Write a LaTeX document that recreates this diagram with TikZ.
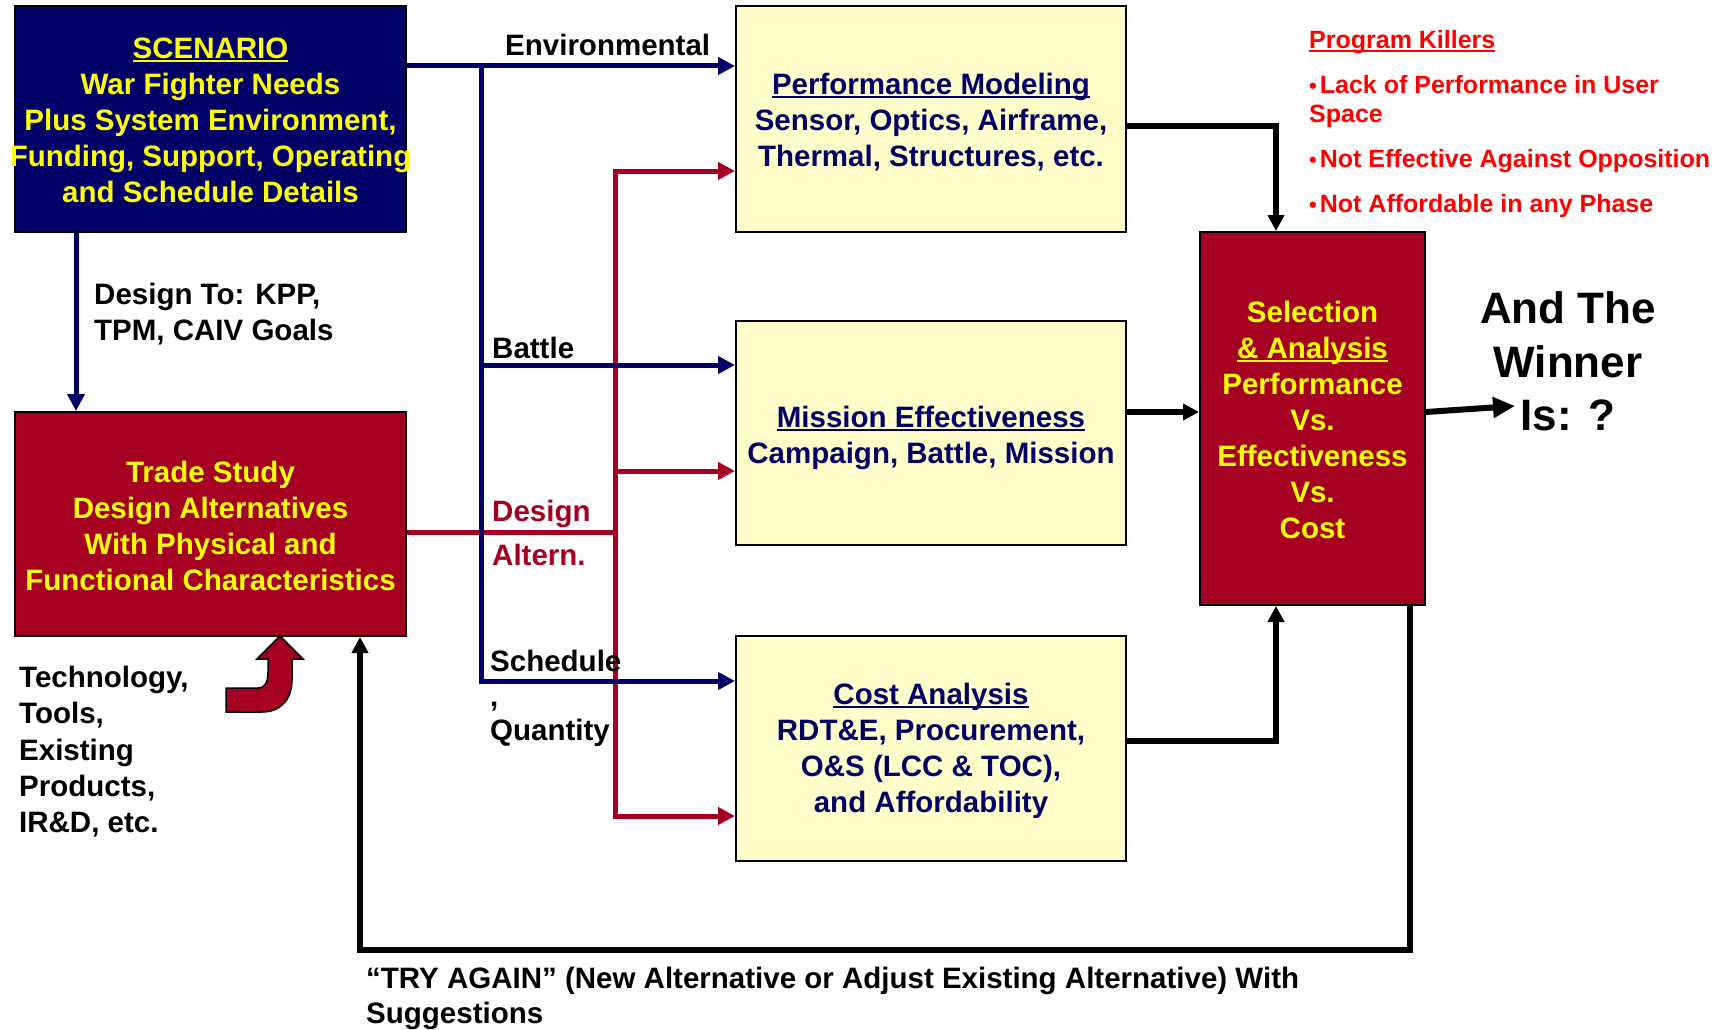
\documentclass[tikz,border=0pt]{standalone}
\usepackage{fontspec}
\setmainfont{Liberation Sans}
\usetikzlibrary{arrows.meta}
\definecolor{navy}{HTML}{000066}
\definecolor{dred}{HTML}{A50021}
\definecolor{ylw}{HTML}{FFFF00}
\definecolor{pale}{HTML}{FFFFCC}
\definecolor{kred}{HTML}{FF0000}
\newsavebox\ulbox
\newcommand\myul[1]{\sbox\ulbox{#1}\rlap{\rule[-3.5pt]{\wd\ulbox}{2pt}}\usebox\ulbox}
\newcommand\pkbul{{\fontsize{22}{22}\selectfont\textbullet}\hspace{3pt}}
\tikzset{
  frame/.style={draw=black, line width=2pt, inner sep=0pt},
  navybox/.style={frame, fill=navy},
  redbox/.style={frame, fill=dred},
  palebox/.style={frame, fill=pale},
  ytext/.style={text=ylw, align=center, inner sep=0pt},
  ntext/.style={text=navy, align=center, inner sep=0pt},
  lbl/.style={anchor=base west, inner sep=0pt},
  blu/.style={draw=navy, line width=5pt, line join=miter},
  bluarr/.style={blu, -{Triangle[length=17pt,width=17pt]}},
  redl/.style={draw=dred, line width=5pt, line join=miter},
  redarr/.style={redl, -{Triangle[length=17pt,width=17pt]}},
  blk/.style={draw=black, line width=6pt, line join=miter},
  blkarr/.style={blk, -{Triangle[length=16pt,width=16pt]}},
}
\begin{document}
\begin{tikzpicture}[x=1pt,y=-1pt,font=\fontsize{29.5}{36}\selectfont\bfseries]
\useasboundingbox (0,0) rectangle (1731,1030);

% boxes
\node[navybox, minimum width=391pt, minimum height=226pt] (scen) at (210.5,119) {};
\node[ytext, yshift=-1pt] (scent) at (scen.center) {\myul{SCENARIO}\\War Fighter Needs\\Plus System Environment,\\Funding, Support, Operating\\and Schedule Details};
\node[redbox, minimum width=391pt, minimum height=224pt] (trade) at (210.5,524) {};
\node[ytext, yshift=-2pt] (tradet) at (trade.center) {Trade Study\\Design Alternatives\\With Physical and\\Functional Characteristics};
\node[palebox, minimum width=390pt, minimum height=226pt] (perf) at (931,119) {};
\node[ntext, yshift=-3pt] (perft) at (perf.center) {\myul{Performance Modeling}\\Sensor, Optics, Airframe,\\Thermal, Structures, etc.};
\node[palebox, minimum width=390pt, minimum height=224pt] (miss) at (931,433) {};
\node[ntext, yshift=-5pt] (misst) at (miss.center) {\myul{Mission Effectiveness}\\Campaign, Battle, Mission};
\node[palebox, minimum width=390pt, minimum height=225pt] (cost) at (931,748.5) {};
\node[ntext, yshift=-2pt] (costt) at (cost.center) {\myul{Cost Analysis}\\RDT\&E, Procurement,\\O\&S (LCC \& TOC),\\and Affordability};
\node[redbox, minimum width=225pt, minimum height=373pt] (sel) at (1312.5,418.5) {};
\node[ytext, yshift=-1pt] (selt) at (sel.center) {Selection\\\myul{\& Analysis}\\Performance\\Vs.\\Effectiveness\\Vs.\\Cost};

% coordinates
\coordinate (bj) at (481,66);
\coordinate (bb) at (481,365);
\coordinate (bs) at (481,681);
\coordinate (rj) at (615,532);
\coordinate (rt) at (615,171);
\coordinate (rm) at (615,471);
\coordinate (rb) at (615,816);
\coordinate (loopL) at (360,950);
\coordinate (wtip) at (1515,406);

% red connectors
\draw[redl] (trade.east |- rj) -- (rj);
\draw[redl, {Triangle[length=17pt,width=17pt]}-{Triangle[length=17pt,width=17pt]}] (perf.west |- rt) -| (rb) -- (cost.west |- rb);
\draw[redarr] (rm) -- (miss.west |- rm);

% blue connectors
\draw[bluarr] (scen.east |- bj) -- (perf.west |- bj);
\draw[bluarr] (bj) -- (bs) -- (cost.west |- bs);
\draw[bluarr] (bb) -- (miss.west |- bb);
\draw[bluarr] ([xshift=-134.5pt]scen.south) -- ([xshift=-134.5pt]trade.north);

% black connectors
\draw[blkarr] (perf.east |- 0,126) -| ([xshift=-36.5pt]sel.north);
\draw[blkarr] (miss.east |- 0,412) -- (sel.west |- 0,412);
\draw[blkarr] (cost.east |- 0,741) -| ([xshift=-36.5pt]sel.south);
\draw[blkarr] ([xshift=97.5pt]sel.south) |- (loopL) -- (loopL |- trade.south);
\draw[blk, -{Triangle[length=22pt,width=20pt]}] (sel.east |- 0,412) -- (wtip);

% curved input arrow
\draw[fill=dred, draw=black, line width=1.5pt, line join=miter]
  (226,688) -- (258,688) .. controls (265,688) and (268,682) .. (268,672)
  -- (268,659) -- (257,659) -- (280,636) -- (303,659) -- (292,659) -- (292,680)
  .. controls (292,700) and (280,712) .. (262,712) -- (226,712) -- cycle;

% labels
\node[lbl] (lenv) at (505,56) {Environmental};
\node[lbl] (ldt1) at (94,304) {Design To: KPP,};
\node[lbl] (ldt2) at (94,340) {TPM, CAIV Goals};
\node[lbl] (lbat) at (492,358) {Battle};
\node[lbl, text=dred] (ldes) at (492,521) {Design};
\node[lbl, text=dred] (lalt) at (492,565) {Altern.};
\node[lbl] (lsch) at (490,671) {Schedule};
\node[lbl] (lcom) at (490,706) {,};
\node[lbl] (lqty) at (490,740) {Quantity};
\node[lbl] (lt1) at (19,687) {Technology,};
\node[lbl] (lt2) at (19,723) {Tools,};
\node[lbl] (lt3) at (19,760) {Existing};
\node[lbl] (lt4) at (19,796) {Products,};
\node[lbl] (lt5) at (19,832) {IR\&D, etc.};
\node[lbl] (ltry1) at (366,988) {“TRY AGAIN” (New Alternative or Adjust Existing Alternative) With};
\node[lbl] (ltry2) at (366,1023) {Suggestions};

% winner
\begin{scope}[font=\fontsize{44}{54}\selectfont\bfseries]
\node[anchor=base, inner sep=0pt] (w1) at (1568,323) {And The};
\node[anchor=base, inner sep=0pt] (w2) at (1568,377) {Winner};
\node[anchor=base, inner sep=0pt] (w3) at (1568,430) {Is: ?};
\end{scope}

% program killers
\begin{scope}[font=\fontsize{25}{30}\selectfont\bfseries, every node/.style={lbl, text=kred}]
\node (pk0) at (1309,49) {\myul{Program Killers}};
\node (pk1) at (1309,94) {\pkbul Lack of Performance in User};
\node (pk2) at (1309,122) {Space};
\node (pk3) at (1309,167) {\pkbul Not Effective Against Opposition};
\node (pk4) at (1309,212) {\pkbul Not Affordable in any Phase};
\end{scope}
\end{tikzpicture}
\end{document}
